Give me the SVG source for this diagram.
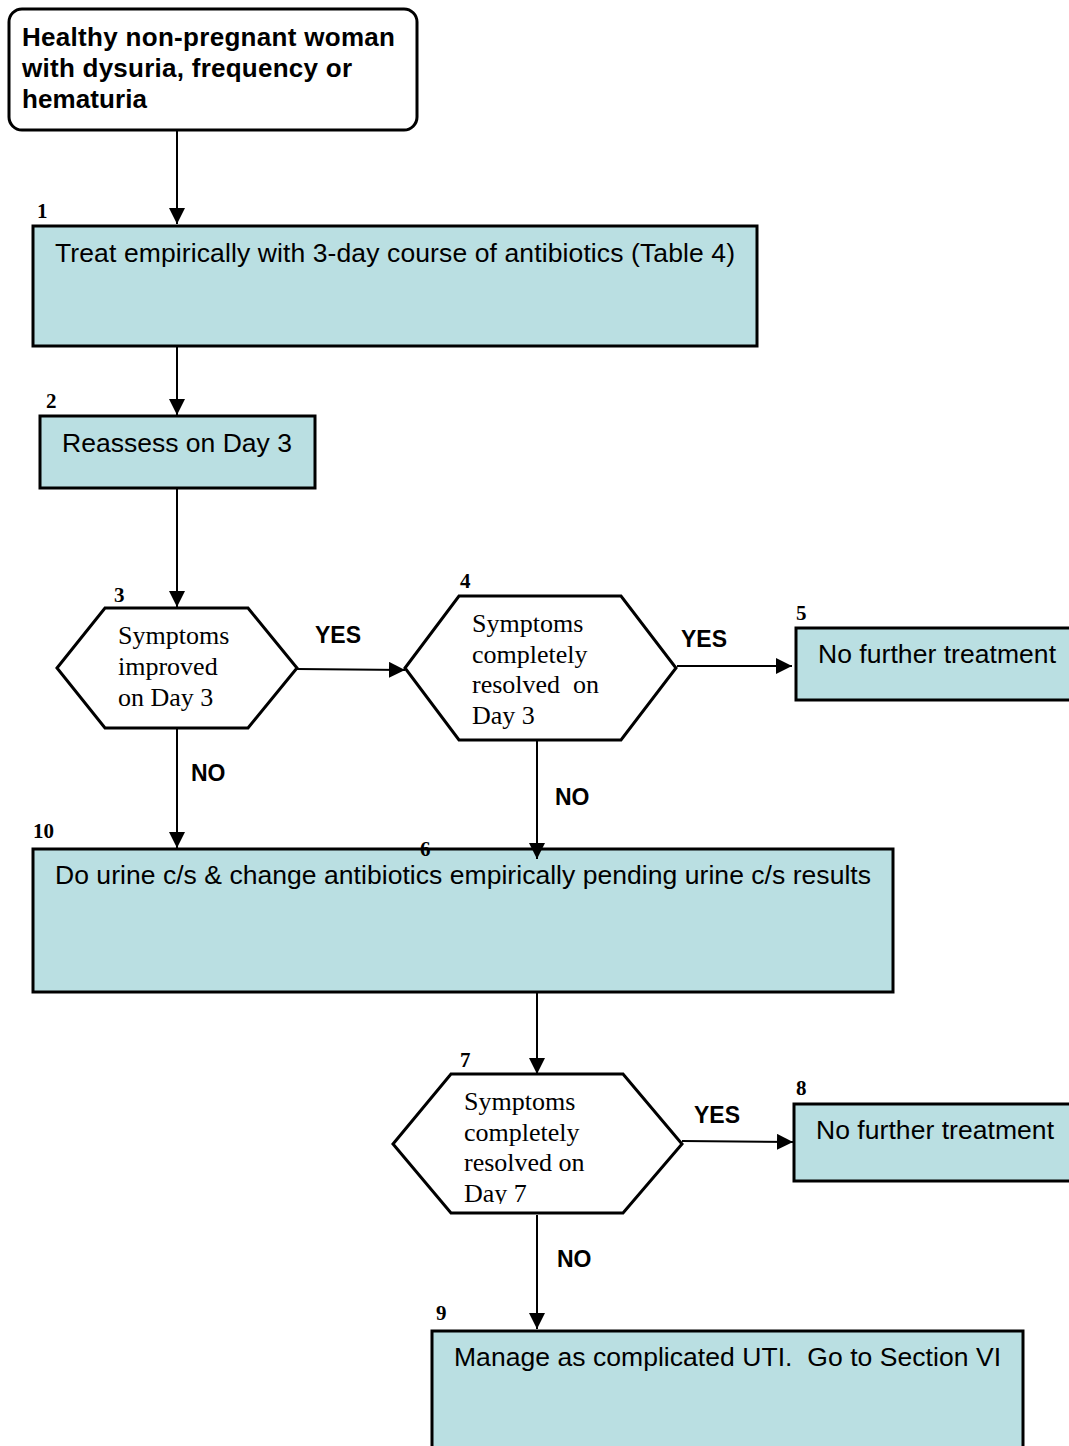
<svg xmlns="http://www.w3.org/2000/svg" width="1069" height="1446" viewBox="0 0 1069 1446">
<defs>
<marker id="arr" viewBox="0 0 10 10" refX="10" refY="5" markerWidth="16" markerHeight="16" markerUnits="userSpaceOnUse" orient="auto">
<path d="M0,0 L10,5 L0,10 z" fill="#000"/>
</marker>
<clipPath id="clip7"><rect x="394" y="1076" width="286" height="128"/></clipPath>
</defs>
<style>
.box{fill:#BADFE2;stroke:#000;stroke-width:3}
.hex{fill:#fff;stroke:#000;stroke-width:3}
.start{fill:#fff;stroke:#000;stroke-width:3}
.t{font-family:"Liberation Sans",Arial,sans-serif;font-size:26.5px;fill:#000;white-space:pre}
.tb{font-family:"Liberation Sans",Arial,sans-serif;font-size:26px;font-weight:bold;fill:#000}
.ts{font-family:"Liberation Serif","Times New Roman",serif;font-size:26px;fill:#000;white-space:pre}
.num{font-family:"Liberation Serif","Times New Roman",serif;font-size:21px;font-weight:bold;fill:#000}
.yn{font-family:"Liberation Sans",Arial,sans-serif;font-size:23px;font-weight:bold;fill:#000}
.c{stroke:#000;stroke-width:2;fill:none;marker-end:url(#arr)}
</style>
<rect width="1069" height="1446" fill="#fff"/>
<g id="start">
<rect class="start" x="9" y="9" width="408" height="121" rx="13"/>
<text class="tb" x="22" y="46" textLength="373">Healthy non-pregnant woman</text>
<text class="tb" x="22" y="77" textLength="330">with dysuria, frequency or</text>
<text class="tb" x="22" y="108" textLength="125">hematuria</text>
</g>
<g id="n1">
<rect class="box" x="33" y="226" width="724" height="120"/>
<text class="num" x="37" y="218">1</text>
<text class="t" x="55" y="262" textLength="680">Treat empirically with 3-day course of antibiotics (Table 4)</text>
</g>
<g id="n2">
<rect class="box" x="40" y="416" width="275" height="72"/>
<text class="num" x="46" y="408">2</text>
<text class="t" x="62" y="452" textLength="230">Reassess on Day 3</text>
</g>
<g id="n3">
<polygon class="hex" points="57,668 105,608 248,608 297,668 248,728 105,728"/>
<text class="num" x="114" y="602">3</text>
<text class="ts" x="118" y="644">Symptoms</text>
<text class="ts" x="118" y="675">improved</text>
<text class="ts" x="118" y="706">on Day 3</text>
</g>
<g id="n4">
<polygon class="hex" points="405,668 459,596 621,596 676,668 621,740 459,740"/>
<text class="num" x="460" y="588">4</text>
<text class="ts" x="472" y="632">Symptoms</text>
<text class="ts" x="472" y="663">completely</text>
<text class="ts" x="472" y="693">resolved  on</text>
<text class="ts" x="472" y="724">Day 3</text>
</g>
<g id="n5">
<rect class="box" x="796" y="628" width="285" height="72"/>
<text class="num" x="796" y="620">5</text>
<text class="t" x="818" y="663" textLength="238">No further treatment</text>
</g>
<g id="n6">
<rect class="box" x="33" y="849" width="860" height="143"/>
<text class="num" x="33" y="838">10</text>
<text class="num" x="420" y="856">6</text>
<text class="t" x="55" y="884" textLength="816">Do urine c/s &amp; change antibiotics empirically pending urine c/s results</text>
</g>
<g id="n7">
<polygon class="hex" points="393,1144 451,1074 623,1074 682,1144 623,1213 451,1213"/>
<text class="num" x="460" y="1067">7</text>
<g clip-path="url(#clip7)">
<text class="ts" x="464" y="1110">Symptoms</text>
<text class="ts" x="464" y="1141">completely</text>
<text class="ts" x="464" y="1171">resolved on</text>
<text class="ts" x="464" y="1202">Day 7</text>
</g>
</g>
<g id="n8">
<rect class="box" x="794" y="1104" width="285" height="77"/>
<text class="num" x="796" y="1095">8</text>
<text class="t" x="816" y="1139" textLength="238">No further treatment</text>
</g>
<g id="n9">
<rect class="box" x="432" y="1331" width="591" height="130"/>
<text class="num" x="436" y="1320">9</text>
<text class="t" x="454" y="1366" textLength="547">Manage as complicated UTI.  Go to Section VI</text>
</g>
<g id="connectors">
<line class="c" x1="177" y1="131" x2="177" y2="224"/>
<line class="c" x1="177" y1="347" x2="177" y2="415"/>
<line class="c" x1="177" y1="489" x2="177" y2="607"/>
<line class="c" x1="297" y1="669" x2="405" y2="670"/>
<line class="c" x1="677" y1="666" x2="792" y2="666"/>
<line class="c" x1="177" y1="729" x2="177" y2="848"/>
<line class="c" x1="537" y1="741" x2="537" y2="859"/>
<line class="c" x1="537" y1="993" x2="537" y2="1074"/>
<line class="c" x1="682" y1="1141" x2="793" y2="1142"/>
<line class="c" x1="537" y1="1215" x2="537" y2="1329"/>
<text class="yn" x="315" y="643">YES</text>
<text class="yn" x="681" y="647">YES</text>
<text class="yn" x="191" y="781">NO</text>
<text class="yn" x="555" y="805">NO</text>
<text class="yn" x="694" y="1123">YES</text>
<text class="yn" x="557" y="1267">NO</text>
</g>
</svg>
